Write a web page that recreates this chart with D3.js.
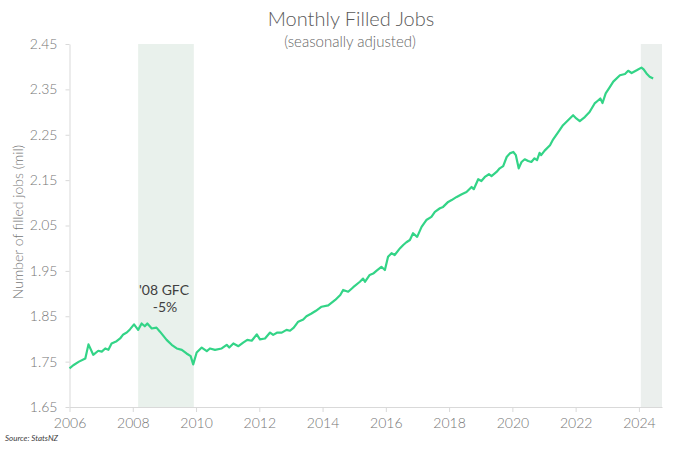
<!DOCTYPE html>
<html><head><meta charset="utf-8">
<script src="https://cdn.jsdelivr.net/npm/d3@7"></script>
<style>
html,body{margin:0;padding:0;background:#fff;}
svg{display:block;font-family:"Lato","Open Sans",sans-serif;}
</style></head>
<body><svg id="chart" width="700" height="455"></svg>
<script>
const years = [2006.00,2006.12,2006.30,2006.50,2006.60,2006.75,2006.91,2007.02,2007.13,2007.23,2007.33,2007.49,2007.60,2007.70,2007.81,2007.91,2008.04,2008.17,2008.28,2008.38,2008.46,2008.60,2008.75,2008.86,2009.07,2009.23,2009.39,2009.55,2009.70,2009.83,2009.91,2010.02,2010.18,2010.34,2010.44,2010.60,2010.81,2010.97,2011.05,2011.18,2011.34,2011.49,2011.62,2011.76,2011.92,2012.02,2012.18,2012.34,2012.44,2012.57,2012.71,2012.86,2012.97,2013.09,2013.23,2013.39,2013.49,2013.65,2013.79,2013.97,2014.18,2014.40,2014.56,2014.65,2014.81,2014.97,2015.18,2015.28,2015.34,2015.49,2015.60,2015.70,2015.86,2015.97,2016.07,2016.18,2016.28,2016.45,2016.55,2016.65,2016.76,2016.86,2016.99,2017.13,2017.28,2017.44,2017.55,2017.71,2017.81,2017.97,2018.08,2018.24,2018.40,2018.55,2018.71,2018.78,2018.92,2019.02,2019.13,2019.26,2019.34,2019.50,2019.60,2019.71,2019.82,2019.92,2020.03,2020.11,2020.20,2020.29,2020.39,2020.50,2020.60,2020.70,2020.78,2020.86,2020.91,2021.02,2021.19,2021.29,2021.45,2021.60,2021.76,2021.92,2022.02,2022.13,2022.29,2022.44,2022.60,2022.70,2022.78,2022.85,2022.95,2023.08,2023.19,2023.40,2023.56,2023.66,2023.77,2023.93,2024.08,2024.15,2024.24,2024.34,2024.45];
const jobs = [1.735,1.742,1.750,1.757,1.788,1.765,1.774,1.772,1.779,1.776,1.790,1.795,1.801,1.810,1.814,1.821,1.832,1.820,1.834,1.828,1.834,1.823,1.825,1.816,1.798,1.787,1.779,1.776,1.768,1.762,1.744,1.770,1.781,1.773,1.779,1.776,1.779,1.787,1.781,1.790,1.784,1.792,1.798,1.796,1.810,1.799,1.801,1.814,1.809,1.814,1.814,1.820,1.818,1.825,1.838,1.843,1.850,1.856,1.862,1.871,1.874,1.886,1.897,1.908,1.904,1.914,1.926,1.933,1.926,1.941,1.944,1.950,1.959,1.952,1.981,1.989,1.985,2.000,2.007,2.013,2.018,2.033,2.025,2.047,2.062,2.069,2.080,2.088,2.091,2.102,2.106,2.113,2.119,2.124,2.135,2.130,2.152,2.148,2.157,2.163,2.159,2.168,2.176,2.181,2.201,2.209,2.212,2.205,2.176,2.190,2.196,2.192,2.190,2.198,2.194,2.210,2.205,2.215,2.227,2.240,2.256,2.271,2.282,2.293,2.286,2.280,2.289,2.300,2.319,2.325,2.330,2.320,2.341,2.355,2.367,2.381,2.384,2.391,2.386,2.392,2.398,2.394,2.385,2.378,2.374];
const xTicks = [2006,2008,2010,2012,2014,2016,2018,2020,2022,2024];
const yTicks = [1.65,1.75,1.85,1.95,2.05,2.15,2.25,2.35,2.45];
const bandStarts = [2008.17, 2024.06];
const bandEnds = [2009.93, 2024.73];
const xDomain = [2006, 2024.73];
const yDomain = [1.65, 2.45];

const svg = d3.select("#chart");
const x = d3.scaleLinear().domain(xDomain).range([69.5, 662]);
const y = d3.scaleLinear().domain(yDomain).range([407, 44]);

// bands
svg.append("g").selectAll("rect").data(bandStarts).join("rect")
  .attr("x", (d,i)=>x(d)).attr("width",(d,i)=>x(bandEnds[i])-x(d))
  .attr("y", y(yDomain[1])).attr("height", y(yDomain[0]) - y(yDomain[1]))
  .attr("fill", (d,i)=> i===0 ? "#e9f1ec" : "#ebefed");

// axes
const xa = svg.append("g").attr("transform",`translate(0,${y(yDomain[0])})`)
  .call(d3.axisBottom(x).tickValues(xTicks).tickFormat(d3.format("d")).tickSize(5).tickSizeOuter(0));
const ya = svg.append("g").attr("transform",`translate(${x(xDomain[0])},0)`)
  .call(d3.axisLeft(y).tickValues(yTicks).tickFormat(d3.format(".2f")).tickSize(4).tickSizeOuter(0));
[xa, ya].forEach(a=>{
  a.select(".domain").attr("stroke","#d9d9d9");
  a.selectAll(".tick line").attr("stroke","#d9d9d9");
  a.selectAll("text").attr("fill","#767676").style("font-size","14px").style("font-weight","300").style("font-family","Lato, 'Open Sans', sans-serif");
});
xa.selectAll("text").attr("dy","0.95em");
ya.selectAll("text").attr("dx","-5");

// line
const pts = years.map((yr,i)=>[yr, jobs[i]]);
svg.append("path").datum(pts)
  .attr("fill","none").attr("stroke","#33d487").attr("stroke-width",2.2)
  .attr("stroke-linejoin","round")
  .attr("d", d3.line().x(d=>x(d[0])).y(d=>y(d[1])));

// titles
svg.append("text").attr("x",351).attr("y",26).attr("text-anchor","middle")
  .attr("fill","#595959").style("font-size","20px").style("font-weight","300").text("Monthly Filled Jobs");
svg.append("text").attr("x",350).attr("y",47).attr("text-anchor","middle")
  .attr("fill","#666666").style("font-size","15px").style("font-weight","300").text("(seasonally adjusted)");
svg.append("text").attr("transform","translate(23,222) rotate(-90)").attr("text-anchor","middle")
  .attr("fill","#767676").style("font-size","14px").style("font-weight","300").text("Number of filled jobs (mil)");
svg.append("text").attr("x",5).attr("y",441).attr("fill","#404040")
  .style("font-size","8px").style("font-style","italic").text("Source: StatsNZ");

// annotation
svg.append("text").attr("x",164).attr("y",295).attr("text-anchor","middle")
  .attr("fill","#404040").style("font-size","14px").text("'08 GFC");
svg.append("text").attr("x",165).attr("y",312).attr("text-anchor","middle")
  .attr("fill","#404040").style("font-size","14px").text("-5%");
</script></body></html>
